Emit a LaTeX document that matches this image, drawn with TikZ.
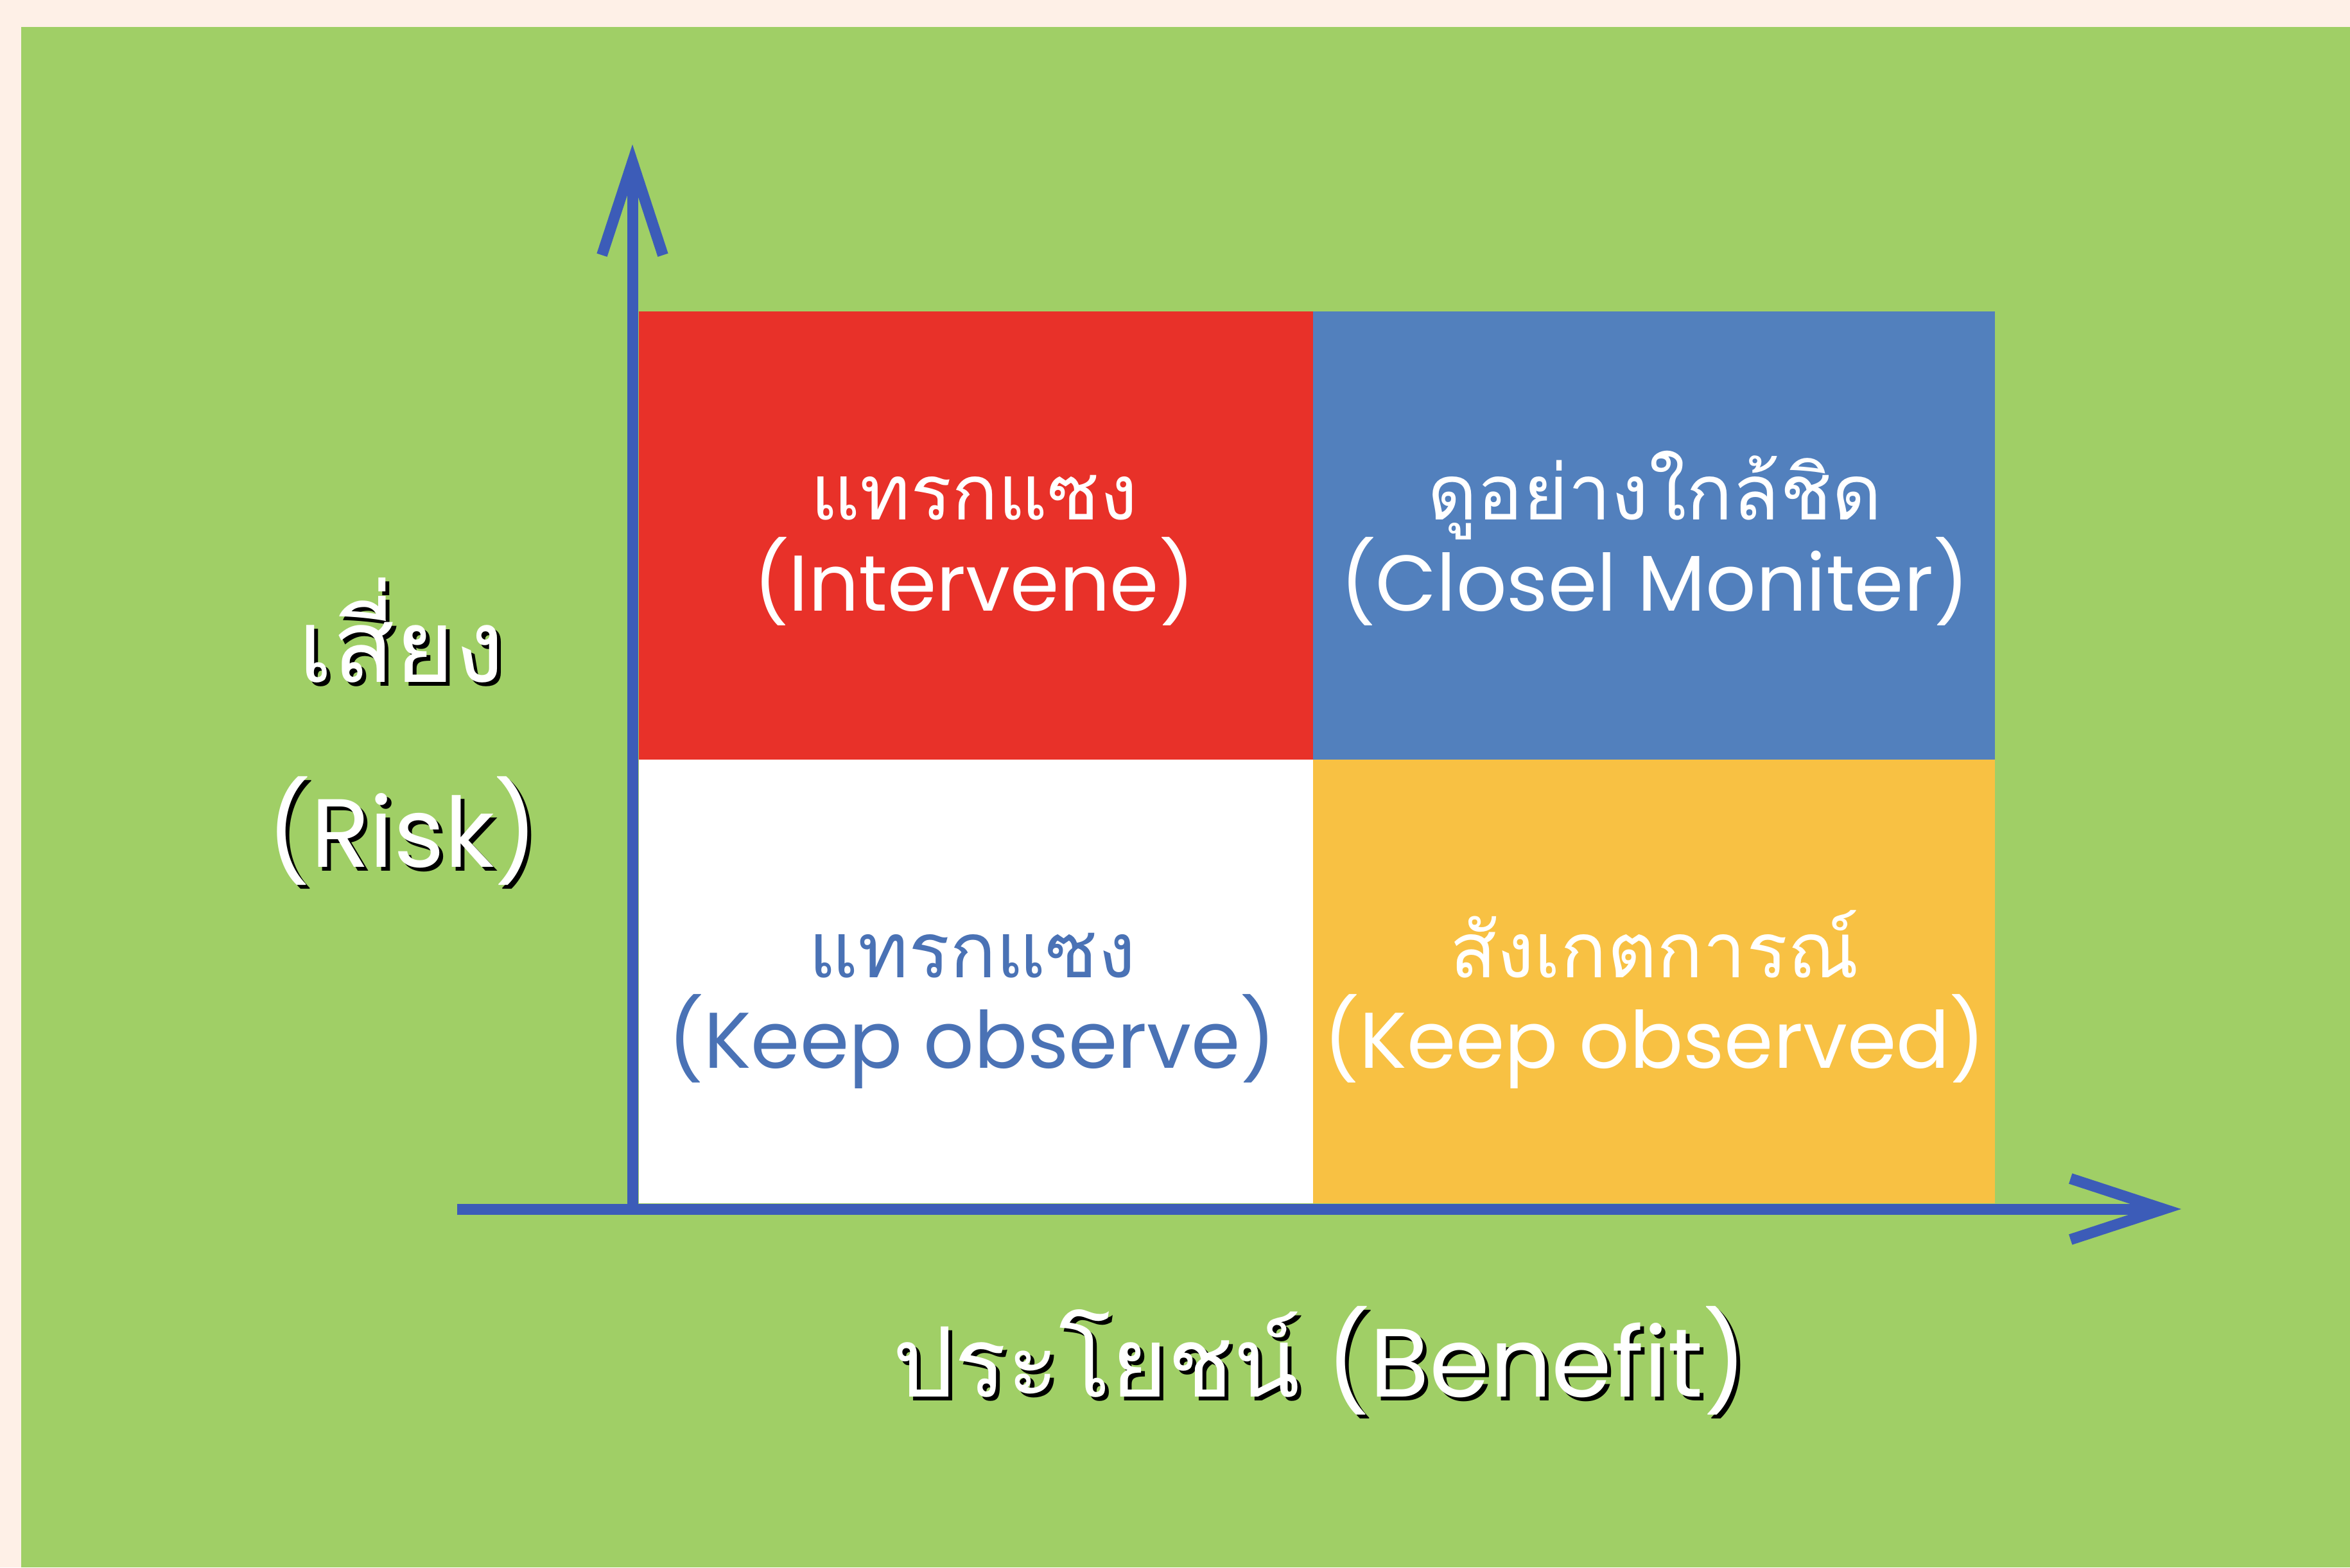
\documentclass[tikz,border=0pt]{standalone}
\usepackage{fontspec}
\newfontfamily\thaifont[Script=Thai]{Loma}
\newfontfamily\latinfont{Poppins}
\usetikzlibrary{arrows.meta}
\definecolor{cream}{RGB}{254,240,231}
\definecolor{field}{RGB}{160,207,102}
\definecolor{qred}{RGB}{232,49,41}
\definecolor{qblue}{RGB}{82,128,189}
\definecolor{qyellow}{RGB}{248,193,67}
\definecolor{axisblue}{RGB}{60,92,184}
\definecolor{textblue}{RGB}{74,114,181}
\tikzset{
	qtext/.style={anchor=base, inner sep=0pt, text=white, font=\thaifont\fontsize{34}{34}\selectfont},
	qlatin/.style={qtext, font=\latinfont\fontsize{35}{35}\selectfont},
	lbl/.style={anchor=base, inner sep=0pt, text=white, font=\latinfont\fontsize{43}{43}\selectfont},
	axis/.style={draw=axisblue, line width=0.17cm, -{Straight Barb[length=1.45cm, width=0.95cm]}},
}
\newcommand{\shadowlabel}[3]{%
	\node[lbl, text=black] (#1-shadow) at ([shift={(0.06,-0.06)}]#2) {#3};
	\node[lbl] (#1) at (#2) {#3};
}
\begin{document}
\begin{tikzpicture}
				\fill[cream] (0,0) rectangle (36.6,24.41);
				\fill[field] (0.33,0) rectangle (36.6,23.99);
				
				\fill[qred] (9.95,12.58) rectangle (20.45,19.56);
				\fill[qblue] (20.45,12.58) rectangle (31.07,19.56);
				\fill[white] (9.95,5.67) rectangle (20.45,12.58);
				\fill[qyellow] (20.45,5.67) rectangle (31.07,12.58);
				
				\coordinate (O) at (9.85,5.58);
				\coordinate (ytip) at (9.85,22.16);
				\coordinate (xstart) at (7.12,5.58);
				\coordinate (xtip) at (33.97,5.58);
				\draw[axis] (O) -- (ytip);
				\draw[axis] (xstart) -- (xtip);
				
				\node[qtext] (intervene-th) at (15.17,16.31) {แทรกแซง};
				\node[qlatin] (intervene) at (15.17,14.89) {(Intervene)};
				\node[qtext] (monitor-th) at (25.77,16.31) {ดูอย่างใกล้ชิด};
				\node[qlatin] (monitor) at (25.77,14.89) {(Closel Moniter)};
				\node[qtext, text=textblue] (observe-th) at (15.14,9.18) {แทรกแซง};
				\node[qlatin, text=textblue] (observe) at (15.14,7.78) {(Keep observe)};
				\node[qtext] (observed-th) at (25.77,9.18) {สังเกตการณ์};
				\node[qlatin] (observed) at (25.77,7.78) {(Keep observed)};
				
				\shadowlabel{risk-th}{6.25,13.78}{\thaifont\fontsize{45}{45}\selectfont เสี่ยง}
				\shadowlabel{risk}{6.27,10.9}{(Risk)}
				\shadowlabel{benefit}{20.56,2.66}{{\thaifont ประโยชน์} (Benefit)}
			\end{tikzpicture}
\end{document}
